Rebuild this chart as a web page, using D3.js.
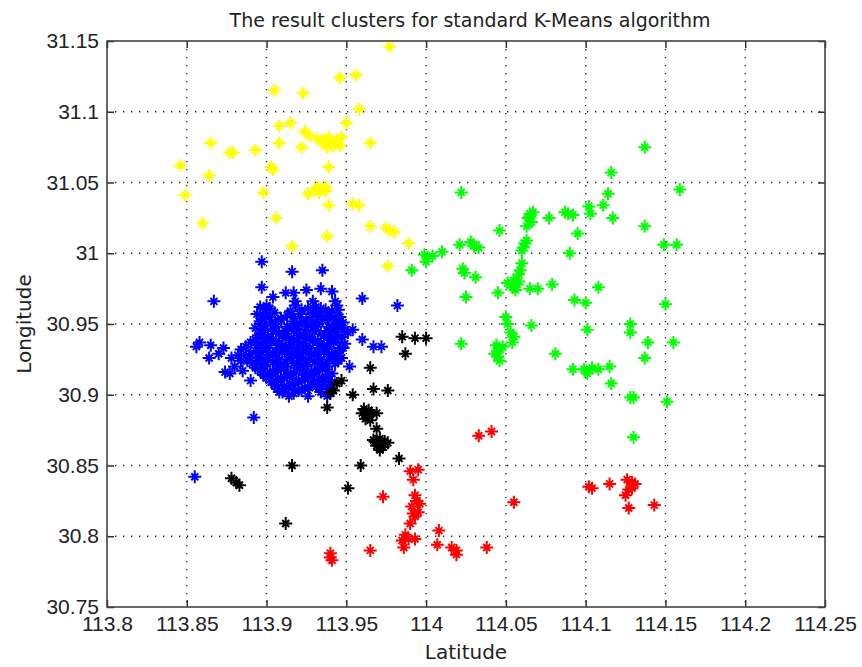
<!DOCTYPE html>
<html>
<head>
<meta charset="utf-8"/>
<title>K-Means clusters</title>
<script src="https://d3js.org/d3.v7.min.js"></script>
<style>
  body { margin: 0; background: #fff; }
  text { font-family: "Liberation Sans", Arial, sans-serif; fill: #222; }
  .title { font-family: "DejaVu Sans", sans-serif; font-size: 19px; }
  .label { font-family: "DejaVu Sans", sans-serif; font-size: 20px; }
  .tick text { font-size: 21px; }
</style>
</head>
<body>
<svg id="chart" width="862" height="667"></svg>
<script>
// tick values
var xTicks = [113.8, 113.85, 113.9, 113.95, 114, 114.05, 114.1, 114.15, 114.2, 114.25];
var yTicks = [30.75, 30.8, 30.85, 30.9, 30.95, 31, 31.05, 31.1, 31.15];

// cluster points [latitude, longitude]
var yellowPts = [
  [113.977, 31.146], [113.946, 31.124], [113.956, 31.126], [113.905, 31.115], [113.923, 31.113],
  [113.958, 31.102], [113.908, 31.090], [113.915, 31.092], [113.950, 31.092], [113.924, 31.086],
  [113.927, 31.083], [113.932, 31.081], [113.935, 31.080], [113.940, 31.078], [113.944, 31.080],
  [113.947, 31.082], [113.938, 31.075], [113.942, 31.076], [113.935, 31.078], [113.946, 31.076],
  [113.939, 31.082], [113.908, 31.078], [113.865, 31.078], [113.965, 31.078], [113.922, 31.075],
  [113.893, 31.073], [113.877, 31.071], [113.879, 31.071], [113.846, 31.062], [113.903, 31.061],
  [113.904, 31.059], [113.939, 31.061], [113.864, 31.055], [113.932, 31.047], [113.935, 31.045],
  [113.937, 31.047], [113.933, 31.043], [113.930, 31.044], [113.937, 31.044], [113.926, 31.042],
  [113.898, 31.043], [113.849, 31.041], [113.939, 31.034], [113.954, 31.035], [113.958, 31.034],
  [113.860, 31.021], [113.906, 31.025], [113.938, 31.012], [113.916, 31.005], [113.965, 31.019],
  [113.975, 31.018], [113.977, 31.016], [113.980, 31.015], [113.989, 31.007], [113.976, 30.991]
];

var greenPts = [
  [114.137, 31.075], [114.116, 31.057], [114.159, 31.045], [114.022, 31.043], [114.114, 31.042],
  [114.111, 31.034], [114.102, 31.033], [114.103, 31.028], [114.117, 31.025], [114.137, 31.019],
  [114.065, 31.028], [114.067, 31.029], [114.064, 31.025], [114.066, 31.022], [114.063, 31.019],
  [114.065, 31.026], [114.077, 31.025], [114.087, 31.029], [114.089, 31.028], [114.092, 31.027],
  [114.046, 31.016], [114.095, 31.014], [114.062, 31.007], [114.061, 31.004], [114.063, 31.009],
  [114.060, 31.002], [114.021, 31.006], [114.028, 31.008], [114.030, 31.005], [114.033, 31.004],
  [113.999, 30.999], [114.004, 30.998], [114.010, 31.001], [114.000, 30.994], [114.090, 31.000],
  [114.149, 31.006], [114.157, 31.006], [113.991, 30.988], [114.023, 30.989], [114.024, 30.986],
  [114.031, 30.983], [114.059, 30.988], [114.060, 30.993], [114.058, 30.985], [114.055, 30.981],
  [114.057, 30.978], [114.056, 30.974], [114.051, 30.979], [114.054, 30.976], [114.058, 30.980],
  [114.045, 30.972], [114.065, 30.975], [114.070, 30.975], [114.079, 30.978], [114.108, 30.976],
  [114.025, 30.969], [114.093, 30.967], [114.100, 30.965], [114.150, 30.964], [114.050, 30.955],
  [114.051, 30.950], [114.066, 30.949], [114.101, 30.946], [114.128, 30.950], [114.128, 30.944],
  [114.053, 30.944], [114.055, 30.941], [114.054, 30.937], [114.139, 30.937], [114.155, 30.937],
  [114.022, 30.936], [114.044, 30.935], [114.046, 30.932], [114.043, 30.929], [114.046, 30.924],
  [114.048, 30.934], [114.045, 30.927], [114.081, 30.929], [114.137, 30.926], [114.092, 30.918],
  [114.099, 30.918], [114.104, 30.919], [114.108, 30.918], [114.101, 30.915], [114.115, 30.920],
  [114.116, 30.908], [114.128, 30.898], [114.130, 30.898], [114.151, 30.895], [114.130, 30.870]
];

var redPts = [
  [114.033, 30.871], [114.041, 30.874], [113.990, 30.846], [113.995, 30.847], [113.992, 30.840],
  [113.973, 30.828], [113.993, 30.829], [113.994, 30.825], [113.991, 30.821], [113.996, 30.823],
  [113.992, 30.816], [113.995, 30.817], [113.993, 30.814], [113.990, 30.809], [113.987, 30.801],
  [113.985, 30.797], [113.989, 30.798], [113.993, 30.798], [113.986, 30.792], [114.008, 30.804],
  [114.007, 30.794], [114.016, 30.792], [114.019, 30.790], [114.019, 30.787], [114.038, 30.792],
  [114.055, 30.824], [114.102, 30.835], [114.104, 30.834], [114.115, 30.837], [114.126, 30.840],
  [114.129, 30.838], [114.131, 30.837], [114.125, 30.829], [114.127, 30.820], [114.129, 30.834],
  [114.127, 30.833], [114.143, 30.822], [113.965, 30.790], [113.940, 30.788], [113.940, 30.785],
  [113.941, 30.783]
];

var bluePts = [
  // outliers
  [113.897, 30.994], [113.916, 30.987], [113.935, 30.988], [113.897, 30.976], [113.867, 30.966],
  [113.960, 30.968], [113.912, 30.972], [113.917, 30.972], [113.925, 30.974], [113.934, 30.975],
  [113.941, 30.973], [113.929, 30.966], [113.918, 30.966], [113.904, 30.969], [113.943, 30.966],
  [113.945, 30.960], [113.900, 30.963], [113.898, 30.956], [113.896, 30.950], [113.856, 30.934],
  [113.858, 30.937], [113.865, 30.935], [113.864, 30.926], [113.873, 30.933], [113.874, 30.916],
  [113.877, 30.915], [113.890, 30.910], [113.882, 30.928], [113.888, 30.924], [113.948, 30.933],
  [113.952, 30.920], [113.960, 30.939], [113.967, 30.934], [113.954, 30.946], [113.908, 30.902],
  [113.917, 30.901], [113.892, 30.884], [113.855, 30.842], [113.972, 30.934], [113.982, 30.963],
  [113.880, 30.920], [113.885, 30.917], [113.884, 30.924], [113.878, 30.926], [113.870, 30.929],
  // dense core
  [113.896, 30.962], [113.902, 30.961], [113.918, 30.963], [113.926, 30.961], [113.931, 30.962],
  [113.937, 30.960], [113.944, 30.963], [113.894, 30.957], [113.899, 30.956], [113.905, 30.958],
  [113.913, 30.956], [113.921, 30.957], [113.928, 30.955], [113.934, 30.958], [113.940, 30.956],
  [113.946, 30.955], [113.896, 30.952], [113.903, 30.951], [113.909, 30.953], [113.916, 30.950],
  [113.922, 30.952], [113.929, 30.951], [113.935, 30.953], [113.942, 30.950], [113.948, 30.951],
  [113.893, 30.947], [113.899, 30.946], [113.906, 30.948], [113.912, 30.945], [113.919, 30.947],
  [113.925, 30.946], [113.931, 30.948], [113.938, 30.945], [113.944, 30.947], [113.951, 30.944],
  [113.895, 30.942], [113.901, 30.941], [113.908, 30.943], [113.914, 30.940], [113.921, 30.942],
  [113.927, 30.941], [113.934, 30.943], [113.940, 30.940], [113.947, 30.941], [113.890, 30.937],
  [113.897, 30.936], [113.903, 30.938], [113.910, 30.935], [113.916, 30.937], [113.923, 30.936],
  [113.929, 30.938], [113.936, 30.935], [113.942, 30.937], [113.949, 30.936], [113.884, 30.932],
  [113.893, 30.931], [113.900, 30.933], [113.906, 30.930], [113.912, 30.932], [113.919, 30.931],
  [113.925, 30.933], [113.932, 30.930], [113.938, 30.932], [113.945, 30.931], [113.887, 30.927],
  [113.895, 30.926], [113.902, 30.928], [113.908, 30.925], [113.915, 30.927], [113.921, 30.926],
  [113.928, 30.928], [113.934, 30.925], [113.941, 30.927], [113.947, 30.926], [113.891, 30.922],
  [113.898, 30.921], [113.904, 30.923], [113.911, 30.920], [113.917, 30.922], [113.924, 30.921],
  [113.930, 30.923], [113.937, 30.920], [113.943, 30.922], [113.896, 30.917], [113.902, 30.916],
  [113.909, 30.918], [113.915, 30.915], [113.922, 30.917], [113.928, 30.916], [113.935, 30.918],
  [113.941, 30.915], [113.900, 30.912], [113.907, 30.911], [113.913, 30.913], [113.920, 30.910],
  [113.926, 30.912], [113.933, 30.911], [113.939, 30.913], [113.905, 30.907], [113.911, 30.906],
  [113.918, 30.908], [113.924, 30.905], [113.931, 30.907], [113.937, 30.906], [113.910, 30.902],
  [113.922, 30.903], [113.934, 30.902],
  // dense core, in-between rows
  [113.899, 30.960], [113.915, 30.959], [113.922, 30.960], [113.929, 30.958], [113.934, 30.961], [113.941, 30.959],
  [113.897, 30.954], [113.902, 30.955], [113.909, 30.954], [113.917, 30.955], [113.925, 30.953], [113.931, 30.956],
  [113.938, 30.954], [113.944, 30.953], [113.899, 30.949], [113.906, 30.950], [113.913, 30.948], [113.919, 30.950],
  [113.926, 30.949], [113.932, 30.950], [113.939, 30.948], [113.945, 30.949], [113.897, 30.944], [113.904, 30.945],
  [113.910, 30.943], [113.917, 30.945], [113.924, 30.944], [113.930, 30.945], [113.937, 30.943], [113.943, 30.944],
  [113.949, 30.946], [113.893, 30.939], [113.899, 30.940], [113.906, 30.938], [113.912, 30.940], [113.919, 30.939],
  [113.925, 30.940], [113.932, 30.938], [113.938, 30.940], [113.944, 30.939], [113.887, 30.934], [113.894, 30.935],
  [113.901, 30.933], [113.907, 30.935], [113.914, 30.934], [113.920, 30.935], [113.927, 30.933], [113.933, 30.935],
  [113.939, 30.934], [113.946, 30.933], [113.890, 30.929], [113.897, 30.930], [113.904, 30.928], [113.910, 30.930],
  [113.917, 30.929], [113.923, 30.930], [113.930, 30.928], [113.936, 30.930], [113.943, 30.929], [113.894, 30.924],
  [113.900, 30.925], [113.907, 30.923], [113.913, 30.925], [113.920, 30.924], [113.926, 30.925], [113.933, 30.923],
  [113.939, 30.925], [113.945, 30.924], [113.893, 30.919], [113.899, 30.920], [113.906, 30.918], [113.912, 30.920],
  [113.919, 30.919], [113.925, 30.920], [113.932, 30.918], [113.938, 30.920], [113.898, 30.914], [113.904, 30.915],
  [113.911, 30.913], [113.917, 30.915], [113.924, 30.914], [113.930, 30.915], [113.937, 30.913], [113.903, 30.909],
  [113.909, 30.910], [113.916, 30.908], [113.922, 30.910], [113.929, 30.909], [113.935, 30.910], [113.941, 30.909],
  [113.907, 30.904], [113.914, 30.905], [113.920, 30.903], [113.927, 30.905], [113.933, 30.904], [113.939, 30.905],
  [113.914, 30.899], [113.926, 30.899], [113.938, 30.899]
];

var blackPts = [
  [113.965, 30.919], [113.944, 30.908], [113.942, 30.903], [113.940, 30.901], [113.954, 30.900],
  [113.967, 30.904], [113.976, 30.903], [113.938, 30.891], [113.961, 30.890], [113.964, 30.889],
  [113.960, 30.887], [113.963, 30.886], [113.966, 30.887], [113.962, 30.883], [113.965, 30.882],
  [113.969, 30.887], [113.969, 30.876], [113.967, 30.868], [113.971, 30.869], [113.974, 30.867],
  [113.969, 30.864], [113.973, 30.863], [113.976, 30.866], [113.971, 30.861], [113.968, 30.867],
  [113.983, 30.855], [113.959, 30.850], [113.951, 30.834], [113.985, 30.941], [113.993, 30.940],
  [114.000, 30.940], [113.987, 30.929], [113.916, 30.850], [113.878, 30.841], [113.881, 30.838],
  [113.883, 30.836], [113.912, 30.809], [113.947, 30.910]
];

var clusters = [
  {name: "yellow", color: "#ffff00", pts: yellowPts},
  {name: "green", color: "#00ff00", pts: greenPts},
  {name: "red", color: "#ff0000", pts: redPts},
  {name: "blue", color: "#0000ff", pts: bluePts},
  {name: "black", color: "#000000", pts: blackPts}
];

var W = 862, H = 667;
var margin = {top: 41, right: 37, bottom: 60, left: 107};
var iw = W - margin.left - margin.right;
var ih = H - margin.top - margin.bottom;

var svg = d3.select("#chart");
var g = svg.append("g").attr("transform", "translate(" + margin.left + "," + margin.top + ")");

var x = d3.scaleLinear().domain([113.8, 114.25]).range([0, iw]);
var y = d3.scaleLinear().domain([30.75, 31.15]).range([ih, 0]);

var fmt = function(d) { return String(+d.toFixed(2)); };

// dotted grid
g.append("g").selectAll("line").data(xTicks.slice(1, -1)).enter().append("line")
  .attr("x1", function(d) { return x(d); }).attr("x2", function(d) { return x(d); })
  .attr("y1", 0).attr("y2", ih)
  .attr("stroke", "#222").attr("stroke-width", 1.3).attr("stroke-dasharray", "1.3,6.7");
g.append("g").selectAll("line").data(yTicks.slice(1, -1)).enter().append("line")
  .attr("y1", function(d) { return y(d); }).attr("y2", function(d) { return y(d); })
  .attr("x1", 0).attr("x2", iw)
  .attr("stroke", "#222").attr("stroke-width", 1.3).attr("stroke-dasharray", "1.3,6.7");

// points, MATLAB '*' marker
var star = "M-6.5,0H6.5M0,-6.5V6.5M-3.5,-3.5L3.5,3.5M-3.5,3.5L3.5,-3.5";
clusters.forEach(function(c) {
  g.append("g").attr("class", "cluster-" + c.name)
    .selectAll("path").data(c.pts).enter().append("path")
    .attr("d", star)
    .attr("transform", function(d) { return "translate(" + x(d[0]) + "," + y(d[1]) + ")"; })
    .attr("fill", "none")
    .attr("stroke", c.color)
    .attr("stroke-width", 2);
});

// axes, ticks pointing inward on all four sides
var xAxis = d3.axisBottom(x).tickValues(xTicks).tickFormat(fmt).tickSizeInner(-7).tickSizeOuter(0).tickPadding(16);
var yAxis = d3.axisLeft(y).tickValues(yTicks).tickFormat(fmt).tickSizeInner(-7).tickSizeOuter(0).tickPadding(16);
var xTop = d3.axisTop(x).tickValues(xTicks).tickFormat("").tickSizeInner(-7).tickSizeOuter(0);
var yRight = d3.axisRight(y).tickValues(yTicks).tickFormat("").tickSizeInner(-7).tickSizeOuter(0);

var gx = g.append("g").attr("transform", "translate(0," + ih + ")").call(xAxis);
var gy = g.append("g").call(yAxis);
var gt = g.append("g").call(xTop);
var gr = g.append("g").attr("transform", "translate(" + iw + ",0)").call(yRight);

[gx, gy, gt, gr].forEach(function(a) {
  a.select(".domain").remove();
  a.selectAll(".tick line").attr("stroke", "#333").attr("stroke-width", 1.5);
});
gx.selectAll(".tick text").attr("dy", "0.71em").attr("y", 9);
gy.selectAll(".tick text").attr("x", -8);

// frame
g.append("rect").attr("x", 0).attr("y", 0).attr("width", iw).attr("height", ih)
  .attr("fill", "none").attr("stroke", "#444").attr("stroke-width", 1.6);

// titles
svg.append("text").attr("class", "title")
  .attr("x", margin.left + iw / 2 + 4).attr("y", 27)
  .attr("text-anchor", "middle")
  .text("The result clusters for standard K-Means algorithm");
svg.append("text").attr("class", "label")
  .attr("x", margin.left + iw / 2).attr("y", 659)
  .attr("text-anchor", "middle")
  .text("Latitude");
svg.append("text").attr("class", "label")
  .attr("transform", "translate(31," + (margin.top + ih / 2) + ") rotate(-90)")
  .attr("text-anchor", "middle")
  .text("Longitude");
</script>
</body>
</html>
